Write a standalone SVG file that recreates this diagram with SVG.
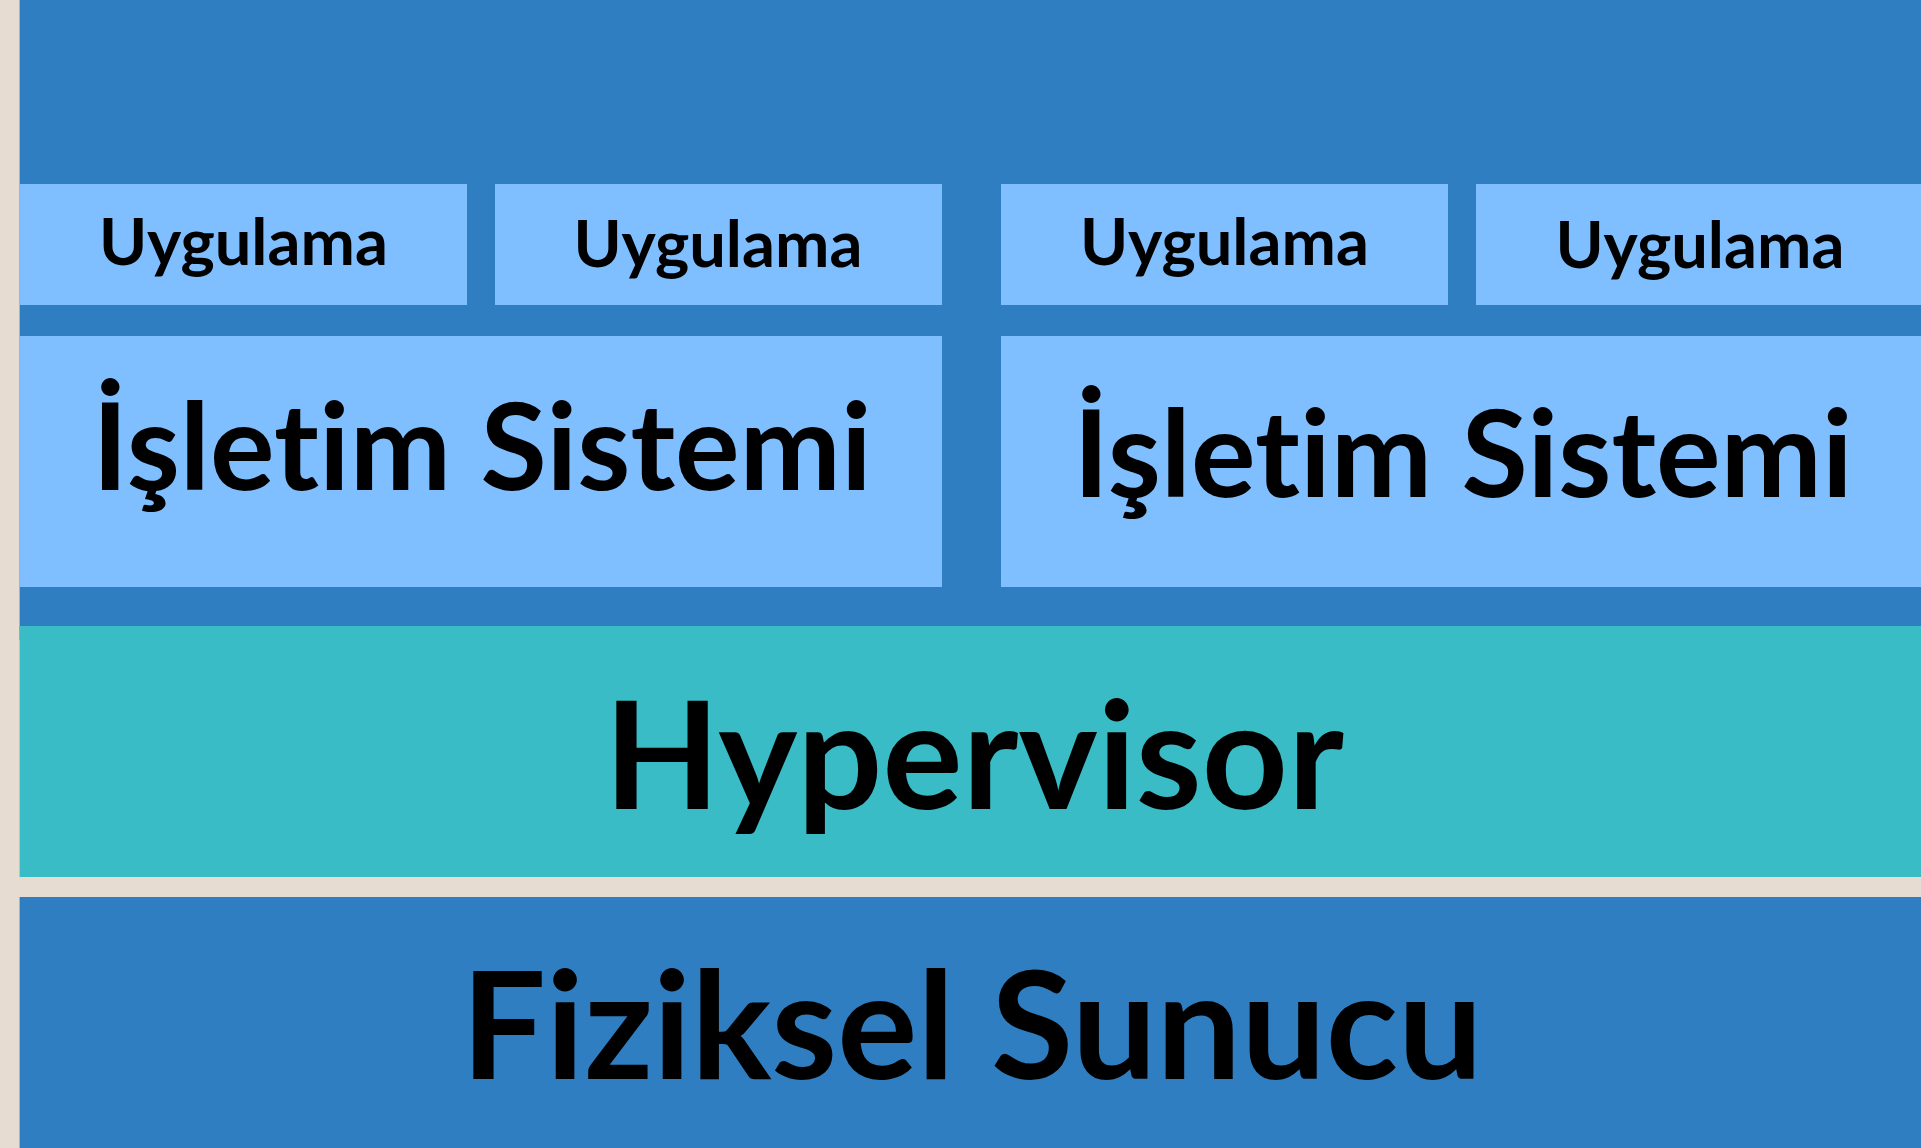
<svg xmlns="http://www.w3.org/2000/svg" width="1921" height="1148" viewBox="0 0 1921 1148">
<style>
.bg{fill:#E6DCD1}
.blue{fill:#2F7EC1}
.light{fill:#7FBFFF}
.teal{fill:#3ABCC6}
text{font-family:Lato,"Liberation Sans",sans-serif;font-weight:700;fill:#000;text-anchor:middle;font-variant-ligatures:none;font-feature-settings:"liga" 0}
.s{font-size:65px}
.m{font-size:121px}
.l{font-size:150px}
</style>
<rect class="bg" x="0" y="0" width="1921" height="1148"/>
<g id="container">
<rect class="blue" x="19.6" y="0" width="1901.4" height="640"/>
</g>
<g id="app1"><rect class="light" x="20" y="184" width="447" height="121"/><text class="s" x="243.5" y="265">Uygulama</text></g>
<g id="app2"><rect class="light" x="495" y="184" width="447" height="121"/><text class="s" x="718" y="267">Uygulama</text></g>
<g id="app3"><rect class="light" x="1001" y="184" width="447" height="121"/><text class="s" x="1224.5" y="265">Uygulama</text></g>
<g id="app4"><rect class="light" x="1476" y="184" width="445" height="121"/><text class="s" x="1700" y="268">Uygulama</text></g>
<g id="os1"><rect class="light" x="20" y="336" width="922" height="251"/><text class="m" x="482" y="490">İşletim Sistemi</text></g>
<g id="os2"><rect class="light" x="1001" y="336" width="920" height="251"/><text class="m" x="1463" y="497">İşletim Sistemi</text></g>
<g id="hypervisor"><rect class="teal" x="19.6" y="626" width="1901.4" height="251"/><text class="l" x="974" y="809">Hypervisor</text></g>
<g id="server"><rect class="blue" x="19.6" y="897" width="1901.4" height="251"/><text class="l" x="972" y="1079">Fiziksel Sunucu</text></g>
<g id="connectors"/>
</svg>
